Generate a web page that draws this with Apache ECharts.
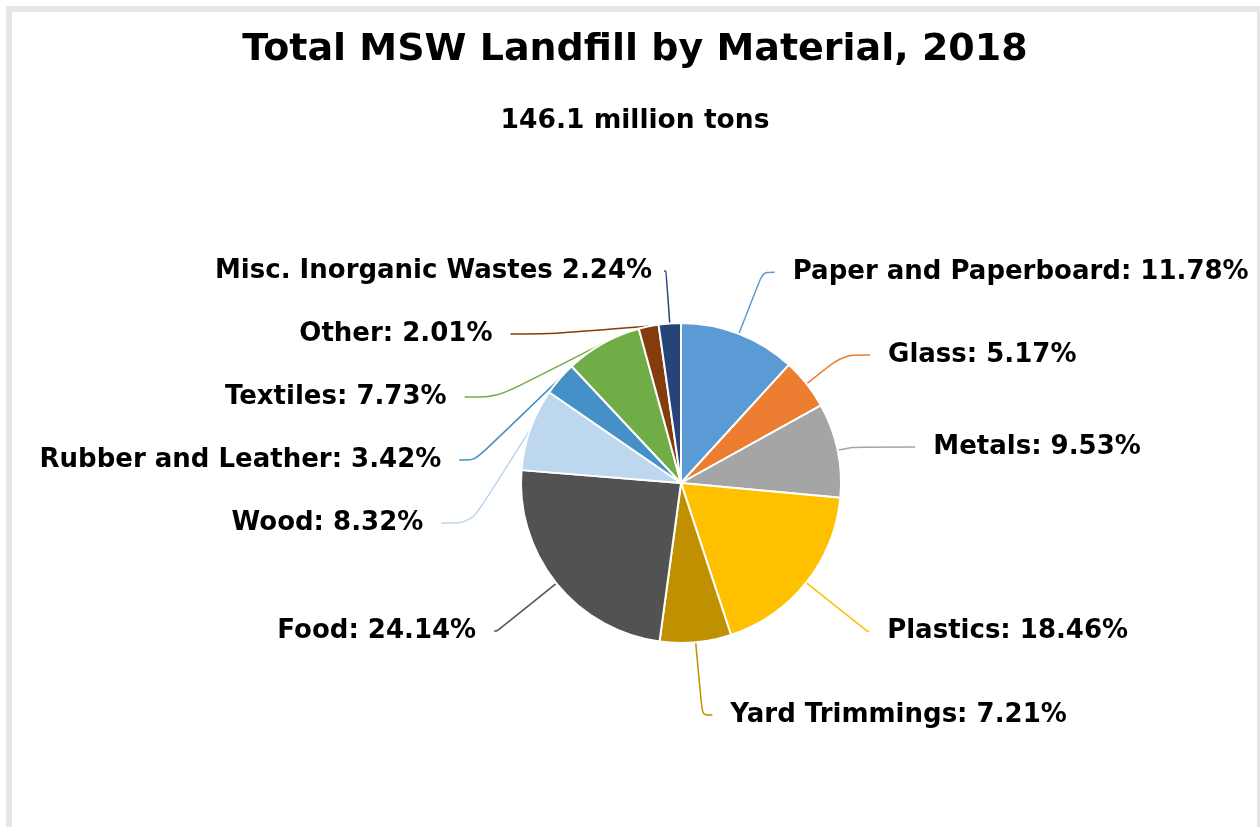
<!DOCTYPE html>
<html>
<head>
<meta charset="utf-8">
<script src="https://cdn.jsdelivr.net/npm/echarts@6/dist/echarts.min.js"></script>
<style>
html, body { margin: 0; padding: 0; background: #fff; overflow: hidden; }
#chart { width: 1260px; height: 827px; }
</style>
</head>
<body>
<div id="chart"></div>
<script>
// ---- data ----
const chartTitle = 'Total MSW Landfill by Material, 2018';
const chartSubtitle = '146.1 million tons';
const categories = ['Paper and Paperboard', 'Glass', 'Metals', 'Plastics', 'Yard Trimmings', 'Food', 'Wood', 'Rubber and Leather', 'Textiles', 'Other', 'Misc. Inorganic Wastes'];
const values = [11.78, 5.17, 9.53, 18.46, 7.21, 24.14, 8.32, 3.42, 7.73, 2.01, 2.24];

// ---- styles ----
const colors = ['#5B9BD5', '#ED7D31', '#A5A5A5', '#FFC000', '#BF9000', '#525252', '#BDD7EE', '#4590C6', '#70AD47', '#843C0C', '#264478'];
const lineLen = [66, 46.5, 16, 78, 73, 76, 70, 65, 60, 50, 52.5];
const lineLen2 = [12, 27, 62, 2, 10, 3, 30, 16, 33, 38, 2];
const labelGap = [18, 18, 18, 18, 18, 18, 18, 18, 18, 18, 12];

const FONT = '"DejaVu Sans", sans-serif';

const data = categories.map((name, i) => ({
  name: name,
  value: values[i],
  itemStyle: { color: colors[i] },
  label: { distanceToLabelLine: labelGap[i] },
  labelLine: { length: lineLen[i], length2: lineLen2[i] }
}));

const chart = echarts.init(document.getElementById('chart'), null, { renderer: 'canvas' });
chart.setOption({
  animation: false,
  backgroundColor: '#ffffff',
  graphic: [{
    type: 'rect',
    silent: true,
    z: -10,
    shape: { x: 9, y: 9, width: 1251, height: 900 },
    style: { fill: 'none', stroke: '#E6E6E6', lineWidth: 6 }
  }],
  title: [{
    text: chartTitle,
    left: 630,
    textAlign: 'center',
    top: 26,
    textStyle: { fontFamily: FONT, fontSize: 38, fontWeight: 'bold', color: '#000' }
  }, {
    text: chartSubtitle,
    left: 630,
    textAlign: 'center',
    top: 103,
    textStyle: { fontFamily: FONT, fontSize: 26.5, fontWeight: 'bold', color: '#000' }
  }],
  series: [{
    type: 'pie',
    center: [681, 483],
    radius: 160,
    startAngle: 90,
    clockwise: true,
    avoidLabelOverlap: true,
    itemStyle: { borderColor: '#ffffff', borderWidth: 2 },
    label: {
      show: true,
      position: 'outer',
      alignTo: 'none',
      bleedMargin: 0,
      distanceToLabelLine: 18,
      overflow: 'none',
      fontFamily: FONT,
      fontSize: 26,
      fontWeight: 'bold',
      color: '#000',
      lineHeight: 61,
      formatter: function (p) {
        const sep = p.name === 'Misc. Inorganic Wastes' ? ' ' : ': ';
        return p.name + sep + p.value.toFixed(2) + '%';
      }
    },
    labelLine: {
      show: true,
      smooth: 0.3,
      lineStyle: { width: 1.5 }
    },
    emphasis: { disabled: true },
    data: data
  }]
});
</script>
</body>
</html>
